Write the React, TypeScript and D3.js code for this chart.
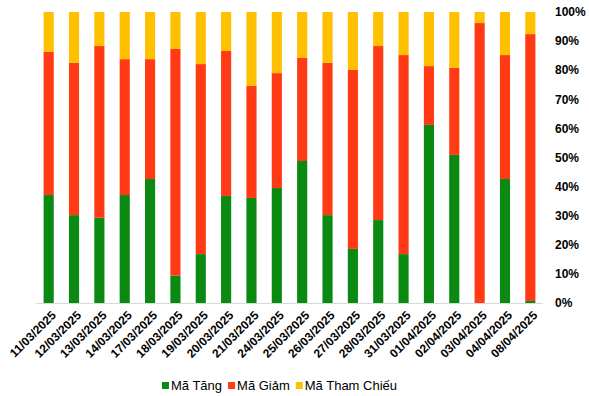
import { useEffect, useRef } from "react";
import * as d3 from "d3";

const dates = [
  "11/03/2025", "12/03/2025", "13/03/2025", "14/03/2025", "17/03/2025",
  "18/03/2025", "19/03/2025", "20/03/2025", "21/03/2025", "24/03/2025",
  "25/03/2025", "26/03/2025", "27/03/2025", "28/03/2025", "31/03/2025",
  "01/04/2025", "02/04/2025", "03/04/2025", "04/04/2025", "08/04/2025",
];
// percentages of each group per day
const maTang = [37.1, 30.2, 29.3, 37.1, 42.6, 9.4, 16.8, 36.8, 36.1, 39.5, 48.8, 30.2, 18.6, 28.5, 16.8, 61.2, 50.9, 0, 42.6, 0.7];
const maGiam = [49.2, 52.3, 59.0, 46.7, 41.2, 77.9, 65.3, 49.8, 38.5, 39.5, 35.4, 52.3, 61.5, 59.8, 68.4, 20.2, 29.9, 96.2, 42.6, 91.7];
const maThamChieu = [13.7, 17.5, 11.7, 16.2, 16.2, 12.7, 17.9, 13.4, 25.4, 21.0, 15.8, 17.5, 19.9, 11.7, 14.8, 18.6, 19.2, 3.8, 14.8, 7.6];
const yTicks = [0, 10, 20, 30, 40, 50, 60, 70, 80, 90, 100];

const SERIES = [
  { name: "Mã Tăng", values: maTang, color: "#0B8A12" },
  { name: "Mã Giảm", values: maGiam, color: "#FF3A14" },
  { name: "Mã Tham Chiếu", values: maThamChieu, color: "#FFC000" },
];

const FONT = "'Liberation Sans', Arial, sans-serif";

export default function App() {
  const svgRef = useRef<SVGSVGElement | null>(null);

  useEffect(() => {
    const svgEl = svgRef.current;
    if (!svgEl) return;
    const width = 589;
    const height = 396;
    const plot = { left: 36, right: 543, top: 12, bottom: 303 };

    const svg = d3.select(svgEl);
    svg.selectAll("*").remove();

    const x = d3.scaleBand().domain(dates).range([plot.left, plot.right]).paddingInner(0.6).paddingOuter(0.3);
    const y = d3.scaleLinear().domain([0, 100]).range([plot.bottom, plot.top]);

    // stacked bars
    dates.forEach((d, i) => {
      let acc = 0;
      SERIES.forEach((s) => {
        const v = s.values[i];
        const y0 = acc;
        const y1 = acc + v;
        acc = y1;
        if (v <= 0) return;
        svg
          .append("rect")
          .attr("x", x(d) ?? 0)
          .attr("width", x.bandwidth())
          .attr("y", y(y1))
          .attr("height", y(y0) - y(y1))
          .attr("fill", s.color);
      });
    });

    // baseline
    svg
      .append("line")
      .attr("x1", plot.left)
      .attr("x2", plot.right)
      .attr("y1", plot.bottom + 0.5)
      .attr("y2", plot.bottom + 0.5)
      .attr("stroke", "#D9D9D9")
      .attr("stroke-width", 1);

    // right axis labels
    svg
      .append("g")
      .selectAll("text")
      .data(yTicks)
      .join("text")
      .attr("x", 555)
      .attr("y", (t) => y(t))
      .attr("dy", "0.35em")
      .attr("font-family", FONT)
      .attr("font-size", 12)
      .attr("font-weight", 700)
      .attr("fill", "#000")
      .text((t) => `${t}%`);

    // date labels
    svg
      .append("g")
      .selectAll("text")
      .data(dates)
      .join("text")
      .attr("transform", (d) => `translate(${(x(d) ?? 0) + x.bandwidth() / 2 + 5}, ${plot.bottom + 10}) rotate(-45)`)
      .attr("text-anchor", "end")
      .attr("dy", "0.35em")
      .attr("font-family", FONT)
      .attr("font-size", 12)
      .attr("font-weight", 700)
      .attr("fill", "#000")
      .text((d) => d);

    // legend
    const legend = svg.append("g");
    let cx = 0;
    SERIES.forEach((s) => {
      const g = legend.append("g").attr("transform", `translate(${cx}, 0)`);
      g.append("rect").attr("x", 0).attr("y", -8).attr("width", 7).attr("height", 7).attr("fill", s.color);
      const t = g
        .append("text")
        .attr("x", 9)
        .attr("y", 0)
        .attr("font-family", FONT)
        .attr("font-size", 13)
        .attr("fill", "#000")
        .text(s.name);
      const w = (t.node() as SVGTextElement).getComputedTextLength();
      cx += 9 + w + 6;
    });
    const total = cx - 6;
    legend.attr("transform", `translate(${(165 + 394) / 2 - total / 2}, 390)`);

    svg.attr("viewBox", `0 0 ${width} ${height}`);
  }, []);

  return (
    <svg
      ref={svgRef}
      width={589}
      height={396}
      style={{ position: "absolute", left: 0, top: 0, background: "#fff" }}
    />
  );
}
